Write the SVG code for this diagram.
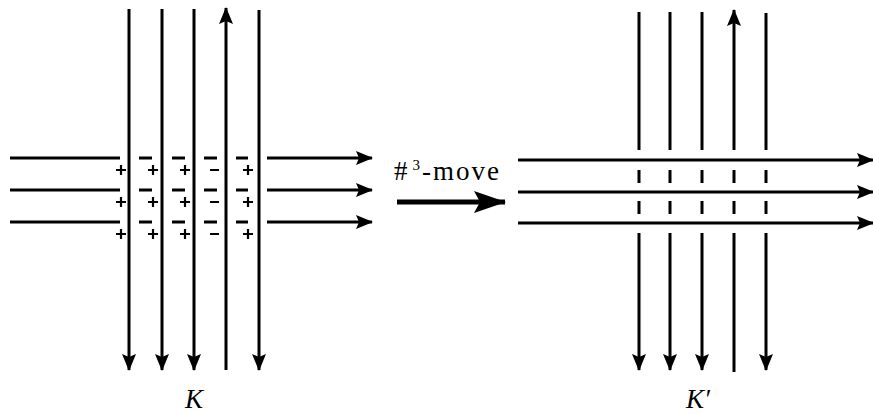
<svg xmlns="http://www.w3.org/2000/svg" width="873" height="414" viewBox="0 0 873 414">
<defs>
<marker id="ah" viewBox="0 0 17 14" refX="16" refY="7" markerWidth="17" markerHeight="14" markerUnits="userSpaceOnUse" orient="auto">
<path d="M0,0 L17,7 L0,14 L3,7 Z" fill="#000"/>
</marker>
<marker id="ahb" viewBox="0 0 32 22" refX="31" refY="11" markerWidth="32" markerHeight="22" markerUnits="userSpaceOnUse" orient="auto">
<path d="M0,0 L32,11 L0,22 L6,11 Z" fill="#000"/>
</marker>
</defs>
<style>
.s{stroke:#000;stroke-width:3;fill:none}
.d{stroke:#000;stroke-width:3;fill:none}
.sg{stroke:#000;stroke-width:2.2;fill:none}
.t{font-family:"Liberation Serif","Times New Roman",serif;fill:#000}
</style>
<rect width="873" height="414" fill="#fff"/>
<g id="connectors">
<g id="K-verticals">
<line class="s" x1="129" y1="9" x2="129" y2="370" marker-end="url(#ah)"/>
<line class="s" x1="162" y1="9" x2="162" y2="370" marker-end="url(#ah)"/>
<line class="s" x1="194" y1="9" x2="194" y2="370" marker-end="url(#ah)"/>
<line class="s" x1="226" y1="370" x2="226" y2="8" marker-end="url(#ah)"/>
<line class="s" x1="259" y1="10" x2="259" y2="370" marker-end="url(#ah)"/>
</g>
<g id="K-horizontals">
<line class="s" x1="10" y1="158" x2="120" y2="158"/>
<line class="s" x1="10" y1="190" x2="120" y2="190"/>
<line class="s" x1="10" y1="222" x2="120" y2="222"/>
<line class="s" x1="267" y1="158" x2="372" y2="158" marker-end="url(#ah)"/>
<line class="s" x1="267" y1="190" x2="372" y2="190" marker-end="url(#ah)"/>
<line class="s" x1="267" y1="222" x2="372" y2="222" marker-end="url(#ah)"/>
<g id="K-dashes">
<path class="d" d="M139,158h13M172,158h13M204,158h13M236,158h12"/>
<path class="d" d="M139,190h13M172,190h13M204,190h13M236,190h12"/>
<path class="d" d="M139,222h13M172,222h13M204,222h13M236,222h12"/>
</g>
</g>
</g>
<g id="K-signs">
<path class="sg" d="M116,170h10M121,165v10 M148,170h10M153,165v10 M180,170h10M185,165v10 M210,170h9 M243,170h10M248,165v10"/>
<path class="sg" d="M116,202h10M121,197v10 M148,202h10M153,197v10 M180,202h10M185,197v10 M210,202h9 M243,202h10M248,197v10"/>
<path class="sg" d="M116,234h10M121,229v10 M148,234h10M153,229v10 M180,234h10M185,229v10 M210,234h9 M243,234h10M248,229v10"/>
</g>
<g id="K-label"><text class="t" x="185" y="408" font-size="27" font-style="italic">K</text></g>

<g id="move">
<text class="t" x="394" y="180" font-size="27" letter-spacing="2">#<tspan font-size="15" dx="3" dy="-10">3</tspan><tspan dy="10">-move</tspan></text>
<line x1="397" y1="202" x2="505" y2="202" stroke="#000" stroke-width="5" marker-end="url(#ahb)"/>
</g>

<g id="Kprime">
<g id="Kp-horizontals">
<line class="s" x1="518" y1="160" x2="873" y2="160" marker-end="url(#ah)"/>
<line class="s" x1="518" y1="192" x2="873" y2="192" marker-end="url(#ah)"/>
<line class="s" x1="518" y1="223" x2="873" y2="223" marker-end="url(#ah)"/>
</g>
<g id="Kp-verticals">
<line class="s" x1="639" y1="12" x2="639" y2="150"/>
<line class="s" x1="670" y1="12" x2="670" y2="150"/>
<line class="s" x1="702" y1="12" x2="702" y2="150"/>
<line class="s" x1="734" y1="150" x2="734" y2="10" marker-end="url(#ah)"/>
<line class="s" x1="766" y1="13" x2="766" y2="150"/>
<path class="d" d="M639,170v13M670,170v13M702,170v13M734,170v13M766,170v13"/>
<path class="d" d="M639,201v13M670,201v13M702,201v13M734,201v13M766,201v13"/>
<line class="s" x1="639" y1="233" x2="639" y2="370" marker-end="url(#ah)"/>
<line class="s" x1="670" y1="233" x2="670" y2="370" marker-end="url(#ah)"/>
<line class="s" x1="702" y1="233" x2="702" y2="370" marker-end="url(#ah)"/>
<line class="s" x1="734" y1="233" x2="734" y2="372"/>
<line class="s" x1="766" y1="233" x2="766" y2="370" marker-end="url(#ah)"/>
</g>
<g id="Kp-label"><text class="t" x="686" y="408" font-size="27" font-style="italic">K′</text></g>
</g>
</svg>
